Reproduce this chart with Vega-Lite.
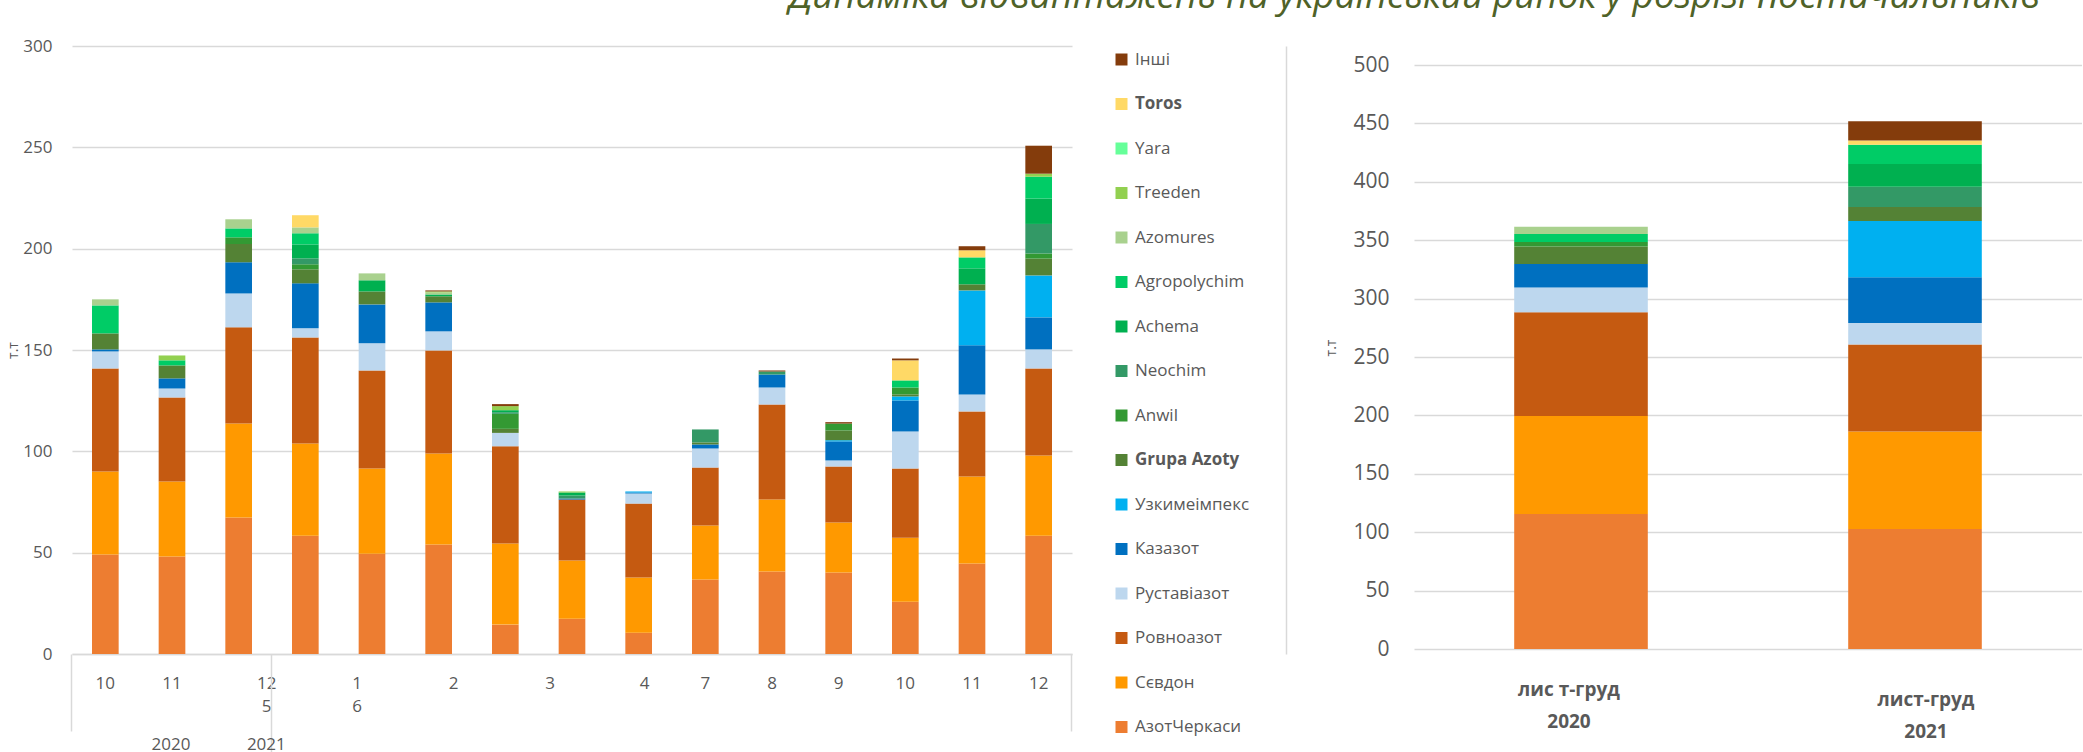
{
  "$schema": "https://vega.github.io/schema/vega-lite/v6.json",
  "background": "white",
  "padding": {"left": 6, "top": -22, "right": 0, "bottom": 0},
  "bounds": "flush",
  "spacing": 342,
  "title": {"text": "Динаміка відвантажень на український ринок у розрізі постачальників", "anchor": "start", "frame": "group", "dx": 717, "fontSize": 37, "font": "Open Sans", "fontStyle": "italic", "fontWeight": "normal", "color": "#4F6228", "baseline": "bottom", "offset": -16},
  "config": {"view": {"stroke": null}, "font": "Open Sans"},
  "datasets": {
    "monthly": [
      {"period": "2020-10", "supplier": "АзотЧеркаси", "value": 49.1},
      {"period": "2020-10", "supplier": "Сєвдон", "value": 40.9},
      {"period": "2020-10", "supplier": "Ровноазот", "value": 50.9},
      {"period": "2020-10", "supplier": "Руставіазот", "value": 8.4},
      {"period": "2020-10", "supplier": "Казазот", "value": 1.0},
      {"period": "2020-10", "supplier": "Grupa Azoty", "value": 7.9},
      {"period": "2020-10", "supplier": "Agropolychim", "value": 13.8},
      {"period": "2020-10", "supplier": "Azomures", "value": 3.0},
      {"period": "2020-11", "supplier": "АзотЧеркаси", "value": 48.1},
      {"period": "2020-11", "supplier": "Сєвдон", "value": 37.0},
      {"period": "2020-11", "supplier": "Ровноазот", "value": 41.5},
      {"period": "2020-11", "supplier": "Руставіазот", "value": 4.4},
      {"period": "2020-11", "supplier": "Казазот", "value": 5.0},
      {"period": "2020-11", "supplier": "Grupa Azoty", "value": 6.4},
      {"period": "2020-11", "supplier": "Agropolychim", "value": 2.5},
      {"period": "2020-11", "supplier": "Treeden", "value": 2.4},
      {"period": "2020-12", "supplier": "АзотЧеркаси", "value": 67.3},
      {"period": "2020-12", "supplier": "Сєвдон", "value": 46.4},
      {"period": "2020-12", "supplier": "Ровноазот", "value": 47.5},
      {"period": "2020-12", "supplier": "Руставіазот", "value": 16.7},
      {"period": "2020-12", "supplier": "Казазот", "value": 15.4},
      {"period": "2020-12", "supplier": "Grupa Azoty", "value": 9.0},
      {"period": "2020-12", "supplier": "Anwil", "value": 3.3},
      {"period": "2020-12", "supplier": "Agropolychim", "value": 4.4},
      {"period": "2020-12", "supplier": "Azomures", "value": 4.5},
      {"period": "2021-01", "supplier": "АзотЧеркаси", "value": 58.4},
      {"period": "2021-01", "supplier": "Сєвдон", "value": 45.5},
      {"period": "2021-01", "supplier": "Ровноазот", "value": 52.3},
      {"period": "2021-01", "supplier": "Руставіазот", "value": 4.5},
      {"period": "2021-01", "supplier": "Казазот", "value": 22.2},
      {"period": "2021-01", "supplier": "Grupa Azoty", "value": 6.9},
      {"period": "2021-01", "supplier": "Anwil", "value": 2.5},
      {"period": "2021-01", "supplier": "Neochim", "value": 2.9},
      {"period": "2021-01", "supplier": "Achema", "value": 6.9},
      {"period": "2021-01", "supplier": "Agropolychim", "value": 5.5},
      {"period": "2021-01", "supplier": "Azomures", "value": 2.9},
      {"period": "2021-01", "supplier": "Toros", "value": 6.0},
      {"period": "2021-02", "supplier": "АзотЧеркаси", "value": 49.5},
      {"period": "2021-02", "supplier": "Сєвдон", "value": 42.0},
      {"period": "2021-02", "supplier": "Ровноазот", "value": 48.4},
      {"period": "2021-02", "supplier": "Руставіазот", "value": 13.4},
      {"period": "2021-02", "supplier": "Казазот", "value": 19.2},
      {"period": "2021-02", "supplier": "Grupa Azoty", "value": 6.4},
      {"period": "2021-02", "supplier": "Achema", "value": 5.5},
      {"period": "2021-02", "supplier": "Azomures", "value": 3.4},
      {"period": "2021-03", "supplier": "АзотЧеркаси", "value": 54.0},
      {"period": "2021-03", "supplier": "Сєвдон", "value": 44.9},
      {"period": "2021-03", "supplier": "Ровноазот", "value": 50.9},
      {"period": "2021-03", "supplier": "Руставіазот", "value": 9.4},
      {"period": "2021-03", "supplier": "Казазот", "value": 14.3},
      {"period": "2021-03", "supplier": "Grupa Azoty", "value": 3.0},
      {"period": "2021-03", "supplier": "Achema", "value": 0.9},
      {"period": "2021-03", "supplier": "Azomures", "value": 1.0},
      {"period": "2021-03", "supplier": "Treeden", "value": 0.5},
      {"period": "2021-03", "supplier": "Інші", "value": 0.5},
      {"period": "2021-04", "supplier": "АзотЧеркаси", "value": 14.5},
      {"period": "2021-04", "supplier": "Сєвдон", "value": 40.0},
      {"period": "2021-04", "supplier": "Ровноазот", "value": 48.0},
      {"period": "2021-04", "supplier": "Руставіазот", "value": 6.6},
      {"period": "2021-04", "supplier": "Grupa Azoty", "value": 2.0},
      {"period": "2021-04", "supplier": "Anwil", "value": 7.4},
      {"period": "2021-04", "supplier": "Neochim", "value": 0.8},
      {"period": "2021-04", "supplier": "Achema", "value": 1.0},
      {"period": "2021-04", "supplier": "Treeden", "value": 2.0},
      {"period": "2021-04", "supplier": "Інші", "value": 1.0},
      {"period": "2021-05", "supplier": "АзотЧеркаси", "value": 17.4},
      {"period": "2021-05", "supplier": "Сєвдон", "value": 28.7},
      {"period": "2021-05", "supplier": "Ровноазот", "value": 30.1},
      {"period": "2021-05", "supplier": "Казазот", "value": 0.5},
      {"period": "2021-05", "supplier": "Neochim", "value": 1.5},
      {"period": "2021-05", "supplier": "Achema", "value": 1.5},
      {"period": "2021-05", "supplier": "Treeden", "value": 0.5},
      {"period": "2021-06", "supplier": "АзотЧеркаси", "value": 10.5},
      {"period": "2021-06", "supplier": "Сєвдон", "value": 27.2},
      {"period": "2021-06", "supplier": "Ровноазот", "value": 36.5},
      {"period": "2021-06", "supplier": "Руставіазот", "value": 5.0},
      {"period": "2021-06", "supplier": "Казазот", "value": 0.5},
      {"period": "2021-06", "supplier": "Узкимеімпекс", "value": 0.5},
      {"period": "2021-07", "supplier": "АзотЧеркаси", "value": 36.7},
      {"period": "2021-07", "supplier": "Сєвдон", "value": 26.7},
      {"period": "2021-07", "supplier": "Ровноазот", "value": 28.6},
      {"period": "2021-07", "supplier": "Руставіазот", "value": 9.4},
      {"period": "2021-07", "supplier": "Казазот", "value": 2.0},
      {"period": "2021-07", "supplier": "Grupa Azoty", "value": 1.0},
      {"period": "2021-07", "supplier": "Neochim", "value": 6.4},
      {"period": "2021-08", "supplier": "АзотЧеркаси", "value": 40.7},
      {"period": "2021-08", "supplier": "Сєвдон", "value": 35.5},
      {"period": "2021-08", "supplier": "Ровноазот", "value": 46.9},
      {"period": "2021-08", "supplier": "Руставіазот", "value": 8.4},
      {"period": "2021-08", "supplier": "Казазот", "value": 6.4},
      {"period": "2021-08", "supplier": "Neochim", "value": 1.5},
      {"period": "2021-08", "supplier": "Інші", "value": 0.5},
      {"period": "2021-09", "supplier": "АзотЧеркаси", "value": 40.2},
      {"period": "2021-09", "supplier": "Сєвдон", "value": 24.7},
      {"period": "2021-09", "supplier": "Ровноазот", "value": 27.6},
      {"period": "2021-09", "supplier": "Руставіазот", "value": 3.0},
      {"period": "2021-09", "supplier": "Казазот", "value": 9.4},
      {"period": "2021-09", "supplier": "Узкимеімпекс", "value": 0.6},
      {"period": "2021-09", "supplier": "Grupa Azoty", "value": 4.8},
      {"period": "2021-09", "supplier": "Anwil", "value": 3.4},
      {"period": "2021-09", "supplier": "Інші", "value": 0.7},
      {"period": "2021-10", "supplier": "АзотЧеркаси", "value": 25.8},
      {"period": "2021-10", "supplier": "Сєвдон", "value": 31.6},
      {"period": "2021-10", "supplier": "Ровноазот", "value": 34.1},
      {"period": "2021-10", "supplier": "Руставіазот", "value": 18.3},
      {"period": "2021-10", "supplier": "Казазот", "value": 15.3},
      {"period": "2021-10", "supplier": "Узкимеімпекс", "value": 2.0},
      {"period": "2021-10", "supplier": "Grupa Azoty", "value": 1.0},
      {"period": "2021-10", "supplier": "Anwil", "value": 3.4},
      {"period": "2021-10", "supplier": "Agropolychim", "value": 3.5},
      {"period": "2021-10", "supplier": "Toros", "value": 9.9},
      {"period": "2021-10", "supplier": "Інші", "value": 0.9},
      {"period": "2021-11", "supplier": "АзотЧеркаси", "value": 44.6},
      {"period": "2021-11", "supplier": "Сєвдон", "value": 43.0},
      {"period": "2021-11", "supplier": "Ровноазот", "value": 32.1},
      {"period": "2021-11", "supplier": "Руставіазот", "value": 8.4},
      {"period": "2021-11", "supplier": "Казазот", "value": 24.2},
      {"period": "2021-11", "supplier": "Узкимеімпекс", "value": 27.1},
      {"period": "2021-11", "supplier": "Grupa Azoty", "value": 3.0},
      {"period": "2021-11", "supplier": "Achema", "value": 7.9},
      {"period": "2021-11", "supplier": "Agropolychim", "value": 5.4},
      {"period": "2021-11", "supplier": "Toros", "value": 3.5},
      {"period": "2021-11", "supplier": "Інші", "value": 2.0},
      {"period": "2021-12", "supplier": "АзотЧеркаси", "value": 58.4},
      {"period": "2021-12", "supplier": "Сєвдон", "value": 39.5},
      {"period": "2021-12", "supplier": "Ровноазот", "value": 43.0},
      {"period": "2021-12", "supplier": "Руставіазот", "value": 9.4},
      {"period": "2021-12", "supplier": "Казазот", "value": 15.8},
      {"period": "2021-12", "supplier": "Узкимеімпекс", "value": 20.7},
      {"period": "2021-12", "supplier": "Grupa Azoty", "value": 8.3},
      {"period": "2021-12", "supplier": "Anwil", "value": 2.5},
      {"period": "2021-12", "supplier": "Neochim", "value": 14.6},
      {"period": "2021-12", "supplier": "Achema", "value": 12.5},
      {"period": "2021-12", "supplier": "Agropolychim", "value": 10.8},
      {"period": "2021-12", "supplier": "Treeden", "value": 1.5},
      {"period": "2021-12", "supplier": "Інші", "value": 13.8}
    ],
    "totals": [
      {"period": "2020", "supplier": "АзотЧеркаси", "value": 115.5},
      {"period": "2020", "supplier": "Сєвдон", "value": 84.0},
      {"period": "2020", "supplier": "Ровноазот", "value": 88.8},
      {"period": "2020", "supplier": "Руставіазот", "value": 21.2},
      {"period": "2020", "supplier": "Казазот", "value": 20.2},
      {"period": "2020", "supplier": "Grupa Azoty", "value": 15.0},
      {"period": "2020", "supplier": "Anwil", "value": 3.7},
      {"period": "2020", "supplier": "Agropolychim", "value": 7.0},
      {"period": "2020", "supplier": "Azomures", "value": 6.2},
      {"period": "2021", "supplier": "АзотЧеркаси", "value": 102.7},
      {"period": "2021", "supplier": "Сєвдон", "value": 83.6},
      {"period": "2021", "supplier": "Ровноазот", "value": 74.5},
      {"period": "2021", "supplier": "Руставіазот", "value": 18.3},
      {"period": "2021", "supplier": "Казазот", "value": 39.2},
      {"period": "2021", "supplier": "Узкимеімпекс", "value": 48.1},
      {"period": "2021", "supplier": "Grupa Azoty", "value": 12.1},
      {"period": "2021", "supplier": "Neochim", "value": 17.2},
      {"period": "2021", "supplier": "Achema", "value": 19.5},
      {"period": "2021", "supplier": "Agropolychim", "value": 16.5},
      {"period": "2021", "supplier": "Toros", "value": 3.7},
      {"period": "2021", "supplier": "Інші", "value": 16.5}
    ]
  },
  "hconcat": [
    {
      "width": 1000,
      "height": 608,
      "data": {"name": "monthly"},
      "transform": [{"calculate": "indexof(['Інші','Toros','Yara','Treeden','Azomures','Agropolychim','Achema','Neochim','Anwil','Grupa Azoty','Узкимеімпекс','Казазот','Руставіазот','Ровноазот','Сєвдон','АзотЧеркаси'], datum.supplier)", "as": "rank"}],
      "layer": [
        {
          "mark": {"type": "bar"},
          "encoding": {
            "x": {"field": "period", "type": "ordinal", "scale": {"paddingInner": 0.6, "paddingOuter": 0.3},
              "axis": {"orient": "bottom", "title": null, "ticks": false, "domain": true, "domainColor": "#D9D9D9", "domainWidth": 1.5, "grid": false, "labelAngle": 0, "labelFontSize": 17, "labelColor": "#595959", "labelPadding": 21, "labelLineHeight": 23,
                "labelExpr": "datum.value === '2020-10' ? '10' : datum.value === '2020-11' ? '11' : datum.value === '2020-12' ? ['12','5'] : datum.value === '2021-02' ? ['1','6'] : datum.value === '2021-03' ? '2' : datum.value === '2021-05' ? '3' : datum.value === '2021-06' ? '4' : datum.value === '2021-07' ? '7' : datum.value === '2021-08' ? '8' : datum.value === '2021-09' ? '9' : datum.value === '2021-10' ? '10' : datum.value === '2021-11' ? '11' : datum.value === '2021-12' ? '12' : ''",
                "labelOffset": {"condition": [{"test": "datum.value === '2020-12'", "value": 28}, {"test": "datum.value === '2021-02'", "value": -15}, {"test": "datum.value === '2021-03'", "value": 15}, {"test": "datum.value === '2021-05'", "value": -22}, {"test": "datum.value === '2021-06'", "value": 6}], "value": 0}}},
            "y": {"field": "value", "type": "quantitative", "stack": "zero", "scale": {"domain": [0, 300], "nice": false},
              "axis": {"orient": "left", "values": [0, 50, 100, 150, 200, 250, 300], "grid": true, "gridColor": "#D9D9D9", "gridWidth": 1.5, "domain": false, "ticks": false, "labelFontSize": 17, "labelColor": "#595959", "labelPadding": 20, "title": "т.т", "titleFontSize": 14, "titleFontWeight": "normal", "titleColor": "#595959", "titlePadding": 2}},
            "color": {"field": "supplier", "type": "nominal",
              "scale": {"domain": ["Інші","Toros","Yara","Treeden","Azomures","Agropolychim","Achema","Neochim","Anwil","Grupa Azoty","Узкимеімпекс","Казазот","Руставіазот","Ровноазот","Сєвдон","АзотЧеркаси"],
                "range": ["#843C0C","#FFD966","#66FF99","#92D050","#A9D18E","#00CC66","#00B050","#339966","#339933","#548235","#00B0F0","#0070C0","#BDD7EE","#C55A11","#FF9900","#ED7D31"]},
              "legend": {"title": null, "orient": "none", "legendX": 1041, "legendY": 5, "symbolType": "square", "symbolSize": 144, "symbolStrokeWidth": 0, "symbolOpacity": 1, "labelFontSize": 17, "labelFont": "Open Sans", "labelColor": "#595959", "rowPadding": 26.5, "labelOffset": 5, "padding": 0,
                "labelFontWeight": {"expr": "datum.label === 'Toros' || datum.label === 'Grupa Azoty' ? 'bold' : 'normal'"}}},
            "order": {"field": "rank", "sort": "descending"}
          }
        },
        {
          "mark": {"type": "tick", "opacity": 0},
          "encoding": {
            "x": {"field": "period", "type": "ordinal",
              "axis": {"orient": "bottom", "title": null, "labels": false, "domain": false, "grid": false, "bandPosition": -0.75, "ticks": true, "tickSize": 99, "tickColor": "#D9D9D9", "tickWidth": 1.5,
                "tickOpacity": {"condition": {"test": "datum.value === '2021-01'", "value": 1}, "value": 0}}},
            "y": {"field": "value", "type": "quantitative",
              "axis": {"orient": "right", "offset": 214, "labels": false, "ticks": false, "grid": false, "domain": true, "domainColor": "#D9D9D9", "domainWidth": 1.5, "title": null}}
          }
        },
        {
          "mark": {"type": "tick", "opacity": 0},
          "encoding": {
            "x": {"field": "period", "type": "ordinal",
              "axis": {"orient": "bottom", "title": null, "domain": false, "grid": false, "bandPosition": -0.75, "ticks": true, "tickSize": 77, "tickColor": "#D9D9D9", "tickWidth": 1.5,
                "tickOpacity": {"condition": {"test": "datum.value === '2020-10'", "value": 1}, "value": 0},
                "labelAngle": 0, "labelFontSize": 17, "labelColor": "#595959", "labelPadding": 5,
                "labelExpr": "datum.value === '2020-11' ? '2020' : datum.value === '2021-01' ? '2021' : ''",
                "labelOffset": {"condition": [{"test": "datum.value === '2020-11'", "value": -1}, {"test": "datum.value === '2021-01'", "value": -39}], "value": 0}}},
            "y": {"field": "value", "type": "quantitative", "axis": null}
          }
        },
        {
          "mark": {"type": "tick", "opacity": 0},
          "encoding": {
            "x": {"field": "period", "type": "ordinal",
              "axis": {"orient": "bottom", "title": null, "labels": false, "domain": false, "grid": false, "bandPosition": 1.75, "ticks": true, "tickSize": 77, "tickColor": "#D9D9D9", "tickWidth": 1.5,
                "tickOpacity": {"condition": {"test": "datum.value === '2021-12'", "value": 1}, "value": 0}}},
            "y": {"field": "value", "type": "quantitative", "axis": null}
          }
        }
      ],
      "resolve": {"axis": {"x": "independent", "y": "independent"}}
    },
    {
      "width": 668,
      "height": 603,
      "data": {"name": "totals"},
      "transform": [{"calculate": "indexof(['Інші','Toros','Yara','Treeden','Azomures','Agropolychim','Achema','Neochim','Anwil','Grupa Azoty','Узкимеімпекс','Казазот','Руставіазот','Ровноазот','Сєвдон','АзотЧеркаси'], datum.supplier)", "as": "rank"}],
      "mark": {"type": "bar"},
      "encoding": {
        "x": {"field": "period", "type": "ordinal", "scale": {"paddingInner": 0.6, "paddingOuter": 0.3},
          "axis": {"title": null, "ticks": false, "domain": false, "labelAngle": 0, "labelFontSize": 19, "labelFontWeight": "bold", "labelColor": "#595959", "labelLineHeight": 32,
            "labelExpr": "datum.value === '2020' ? ['лис т-груд', '2020'] : ['лист-груд', '2021']",
            "labelPadding": {"condition": {"test": "datum.value === '2021'", "value": 41}, "value": 31},
            "labelOffset": {"condition": {"test": "datum.value === '2021'", "value": 11}, "value": -12}}},
        "y": {"field": "value", "type": "quantitative", "stack": "zero", "scale": {"domain": [0, 516.3], "nice": false},
          "axis": {"values": [0, 50, 100, 150, 200, 250, 300, 350, 400, 450, 500], "grid": true, "gridColor": "#D9D9D9", "gridWidth": 1.5, "domain": false, "ticks": false, "labelFontSize": 21, "labelColor": "#595959", "labelPadding": 25, "title": "т.т", "titleFontSize": 14, "titleFontWeight": "normal", "titleColor": "#595959", "titlePadding": 14}},
        "color": {"field": "supplier", "type": "nominal",
          "scale": {"domain": ["Інші","Toros","Yara","Treeden","Azomures","Agropolychim","Achema","Neochim","Anwil","Grupa Azoty","Узкимеімпекс","Казазот","Руставіазот","Ровноазот","Сєвдон","АзотЧеркаси"],
            "range": ["#843C0C","#FFD966","#66FF99","#92D050","#A9D18E","#00CC66","#00B050","#339966","#339933","#548235","#00B0F0","#0070C0","#BDD7EE","#C55A11","#FF9900","#ED7D31"]},
          "legend": {"title": null, "orient": "none", "legendX": 1041, "legendY": 5, "symbolType": "square", "symbolSize": 144, "symbolStrokeWidth": 0, "symbolOpacity": 1, "labelFontSize": 17, "labelFont": "Open Sans", "labelColor": "#595959", "rowPadding": 26.5, "labelOffset": 5, "padding": 0,
            "labelFontWeight": {"expr": "datum.label === 'Toros' || datum.label === 'Grupa Azoty' ? 'bold' : 'normal'"}}},
        "order": {"field": "rank", "sort": "descending"}
      }
    }
  ]
}
